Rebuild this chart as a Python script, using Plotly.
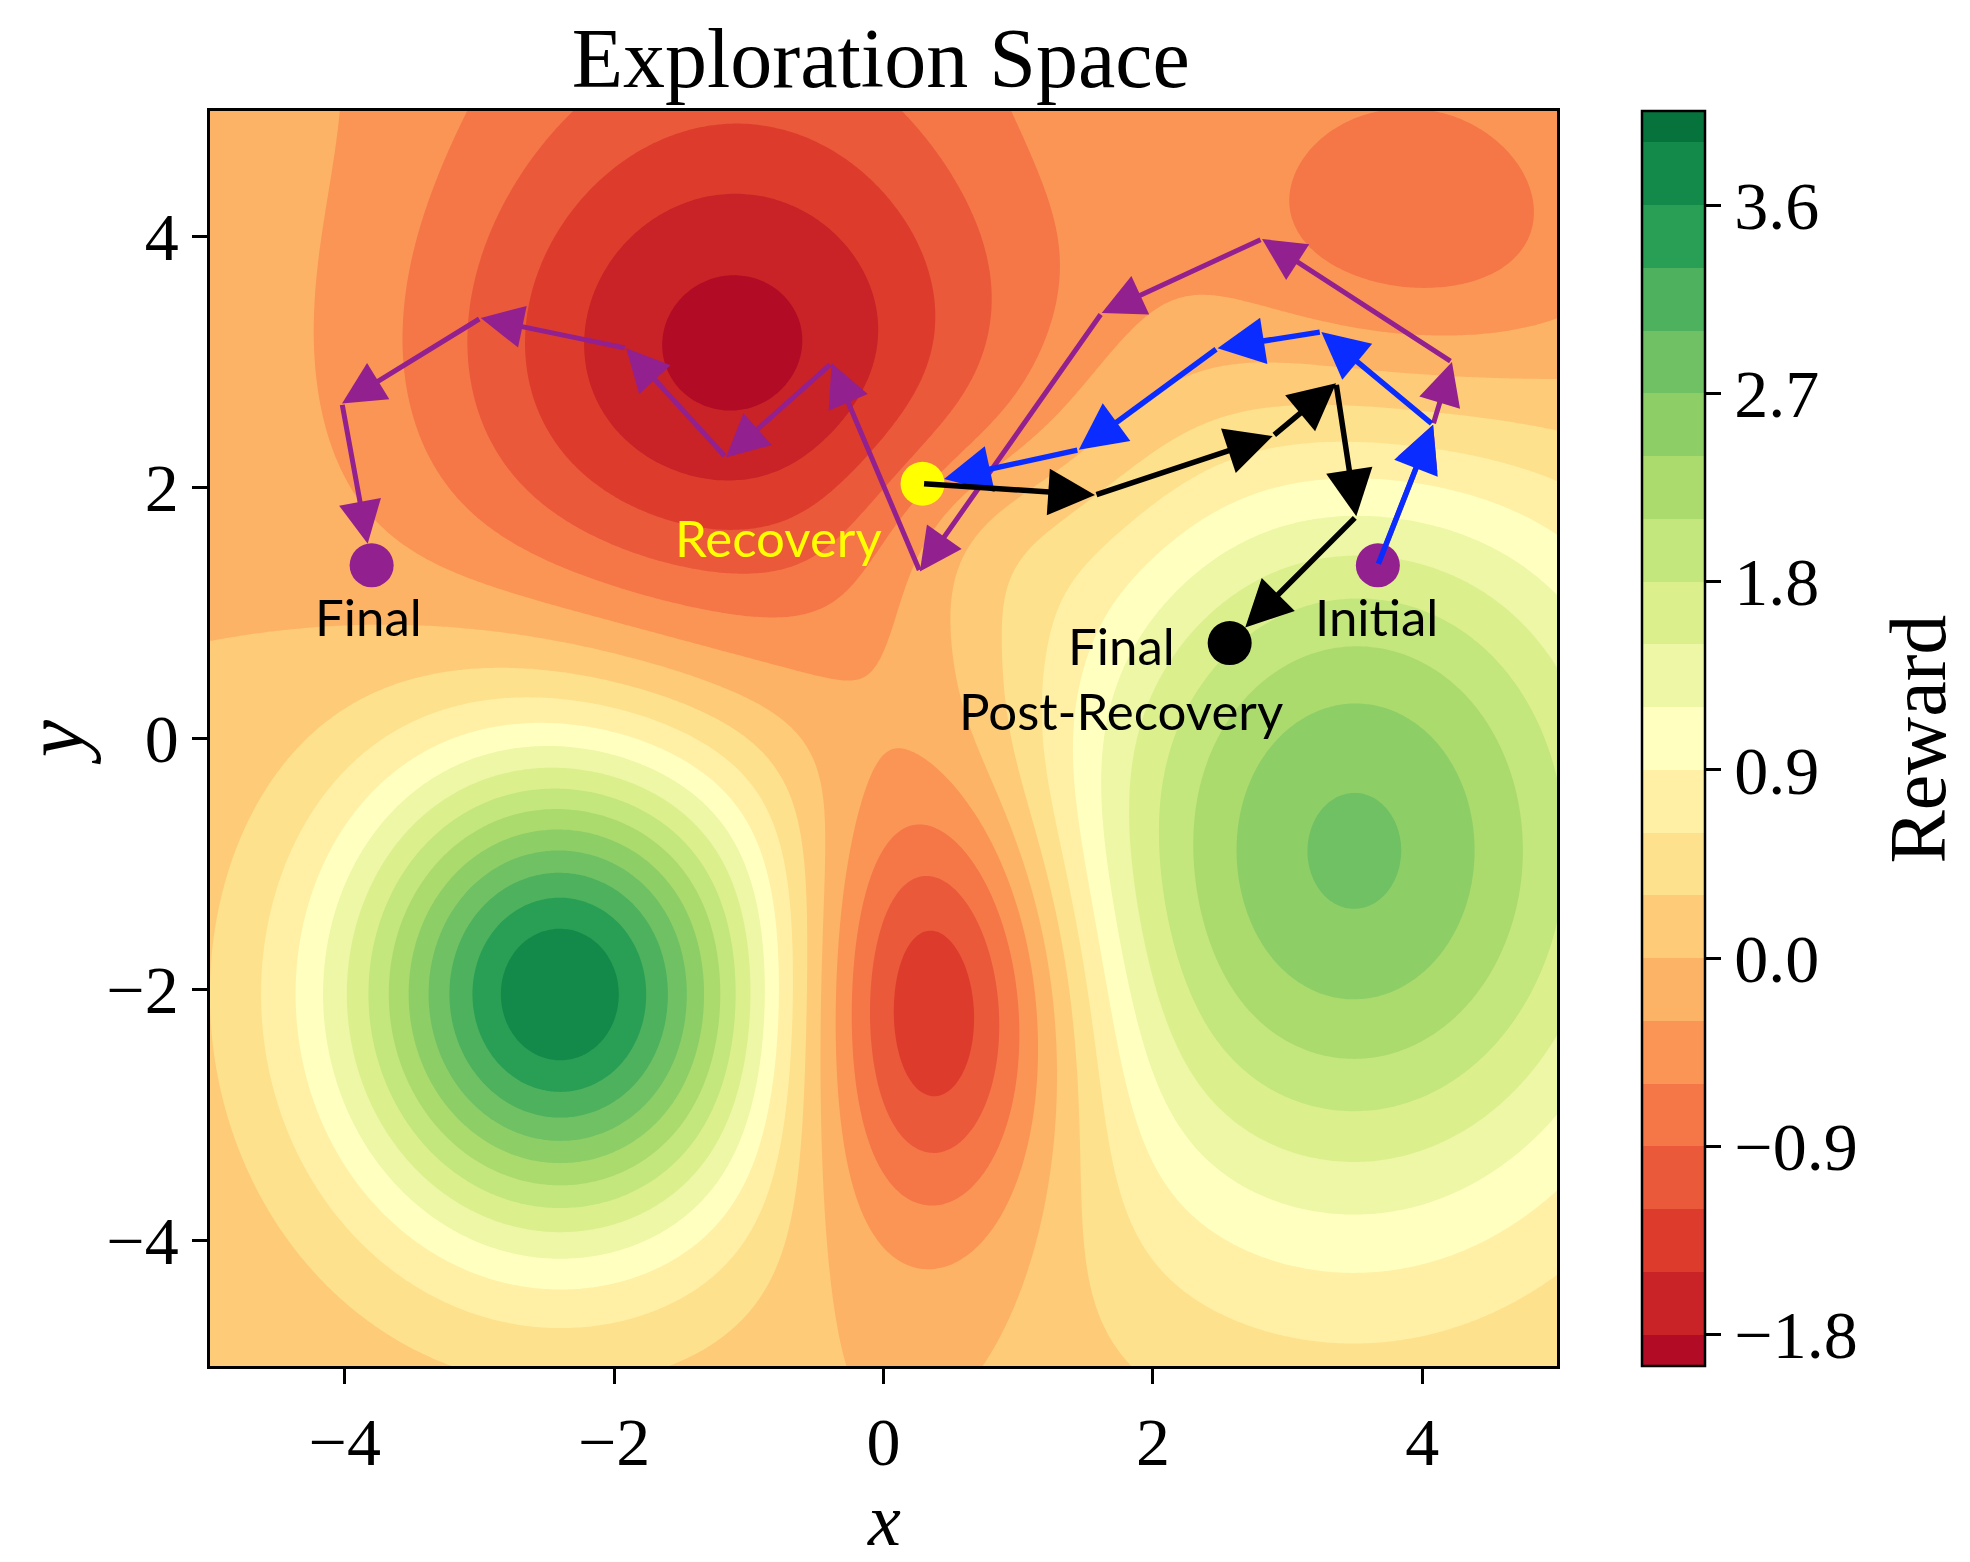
import numpy as np
import plotly.graph_objects as go
from plotly.colors import diverging, sample_colorscale

# reward surface, read as a sum of bumps: centre x, centre y, height, width x, width y, tilt (deg)
bump_x = [-2.40, 3.49, -1.10, 0.38, 3.94, 4.00, -0.80, 0.60]
bump_y = [-2.03, -0.89, 3.08, -2.09, 4.38, 3.40, 6.60, 1.60]
bump_amp = [3.88, 2.76, -1.90, -2.05, -0.62, -0.55, -0.45, 0.35]
bump_sx = [1.15, 1.70, 1.62, 0.75, 0.95, 1.60, 3.00, 0.60]
bump_sy = [1.38, 2.25, 1.62, 1.30, 0.85, 1.00, 1.30, 0.60]
bump_rot = [0, 0, 0, 0, 0, 0, 0, 0]
base_level = 0.0

# contour levels and colorbar ticks
level_start, level_end, level_step = -1.8, 3.9, 0.3
cbar_ticks = [-1.8, -0.9, 0.0, 0.9, 1.8, 2.7, 3.6]
axis_ticks = [-4, -2, 0, 2, 4]

# trajectories (x, y)
blue_x = [3.67, 4.08, 3.25, 2.48, 1.45, 0.29]
blue_y = [1.38, 2.50, 3.24, 3.11, 2.30, 2.03]
purple_x = [3.67, 4.08, 4.22, 2.81, 1.62, 0.27, -0.385, -1.17, -1.91, -2.99, -4.02, -3.80]
purple_y = [1.38, 2.50, 3.00, 3.98, 3.39, 1.33, 2.99, 2.24, 3.11, 3.35, 2.67, 1.38]
black_x = [0.29, 1.57, 2.89, 3.36, 3.51, 2.57]
black_y = [2.03, 1.94, 2.41, 2.83, 1.77, 0.76]

# dots
dot_x = [3.67, -3.80, 0.29, 2.57]
dot_y = [1.38, 1.38, 2.03, 0.76]
dot_col = ["#93208f", "#93208f", "#ffff00", "#000000"]

# labels
lab_text = ["Initial", "Final", "Recovery", "Final", "Post-Recovery"]
lab_x = [3.66, -3.82, -0.78, 1.77, 1.76]
lab_y = [0.975, 0.975, 1.60, 0.745, 0.225]
lab_col = ["black", "black", "#ffff00", "black", "black"]

gx = np.linspace(-5, 5, 401)
gy = np.linspace(-5, 5, 401)
X, Y = np.meshgrid(gx, gy)
Z = np.full_like(X, base_level)
for cx, cy, a, sx, sy, rot in zip(bump_x, bump_y, bump_amp, bump_sx, bump_sy, bump_rot):
    t = np.radians(rot)
    u = (X - cx) * np.cos(t) + (Y - cy) * np.sin(t)
    v = -(X - cx) * np.sin(t) + (Y - cy) * np.cos(t)
    Z += a * np.exp(-u ** 2 / (2 * sx ** 2) - v ** 2 / (2 * sy ** 2))

# matplotlib-style band colours: band k gets RdYlGn((k+.5)/nbands)
nbands = int(round((level_end - level_start) / level_step)) + 2
band_cols = sample_colorscale(diverging.RdYlGn, [(k + 0.5) / nbands for k in range(nbands)])
cscale = [[k / (nbands - 1), c] for k, c in enumerate(band_cols)]

serif = "Liberation Serif"
tick_font = dict(family=serif, size=68, color="black")
fig = go.Figure()
fig.add_trace(go.Contour(
    x=gx, y=gy, z=Z,
    colorscale=cscale,
    contours=dict(start=level_start, end=level_end, size=level_step, coloring="fill", showlines=False),
    line=dict(width=0),
    colorbar=dict(
        x=1.063, xanchor="left", y=0.5, yanchor="middle", len=1, ypad=0, xpad=0, thickness=63,
        outlinecolor="black", outlinewidth=2.5,
        tickvals=cbar_ticks, ticktext=[("%.1f" % v).replace("-", "\u2212") for v in cbar_ticks],
        ticks="outside", ticklen=15, tickwidth=2.5, tickcolor="black",
        tickfont=tick_font,
    ),
    hoverinfo="skip",
))


def add_path(xs, ys, color, width, last_standoff):
    n = len(xs)
    for i in range(1, n):
        fig.add_annotation(
            x=xs[i], y=ys[i], ax=xs[i - 1], ay=ys[i - 1],
            xref="x", yref="y", axref="x", ayref="y",
            text="", showarrow=True, arrowhead=2, arrowsize=1.7,
            arrowwidth=width, arrowcolor=color,
            standoff=last_standoff if i == n - 1 else 0,
        )


add_path(purple_x, purple_y, "#93208f", 5, 22)
add_path(blue_x, blue_y, "#0a2cff", 5.5, 22)
add_path(black_x, black_y, "#000000", 5.5, 22)

fig.add_trace(go.Scatter(
    x=dot_x, y=dot_y, mode="markers",
    marker=dict(size=44, color=dot_col, line=dict(width=0)),
    hoverinfo="skip", showlegend=False,
))

for t, x, y, c in zip(lab_text, lab_x, lab_y, lab_col):
    fig.add_annotation(x=x, y=y, text=t, showarrow=False,
                       font=dict(family="Lato", size=51, color=c))

# axis / colorbar titles
fig.add_annotation(x=1.268, y=0.5, xref="paper", yref="paper", text="Reward", textangle=-90,
                   xanchor="center", yanchor="middle",
                   showarrow=False, font=dict(family=serif, size=80, color="black"))
fig.add_annotation(x=0.5, y=-0.123, xref="paper", yref="paper", text="<i>x</i>",
                   xanchor="center", yanchor="middle",
                   showarrow=False, font=dict(family=serif, size=74, color="black"))

axis_style = dict(range=[-5, 5], tickvals=axis_ticks, ticks="outside", ticklen=15, tickwidth=2.5,
                  tickcolor="black", showline=True, linecolor="black", linewidth=2.5, mirror=True,
                  showgrid=False, zeroline=False, tickfont=tick_font)
fig.update_xaxes(**axis_style)
fig.update_yaxes(**axis_style,
                 title=dict(text="<i>y</i>", font=dict(family=serif, size=84, color="black"), standoff=28))

fig.update_layout(
    width=1970, height=1562,
    margin=dict(l=202, r=421, t=103, b=204),
    paper_bgcolor="white", plot_bgcolor="white",
    title=dict(text="Exploration Space", x=0.443, xanchor="center", y=0.968, yanchor="middle",
               font=dict(family=serif, size=84, color="black")),
    showlegend=False,
)

fig.write_html("out.html")
